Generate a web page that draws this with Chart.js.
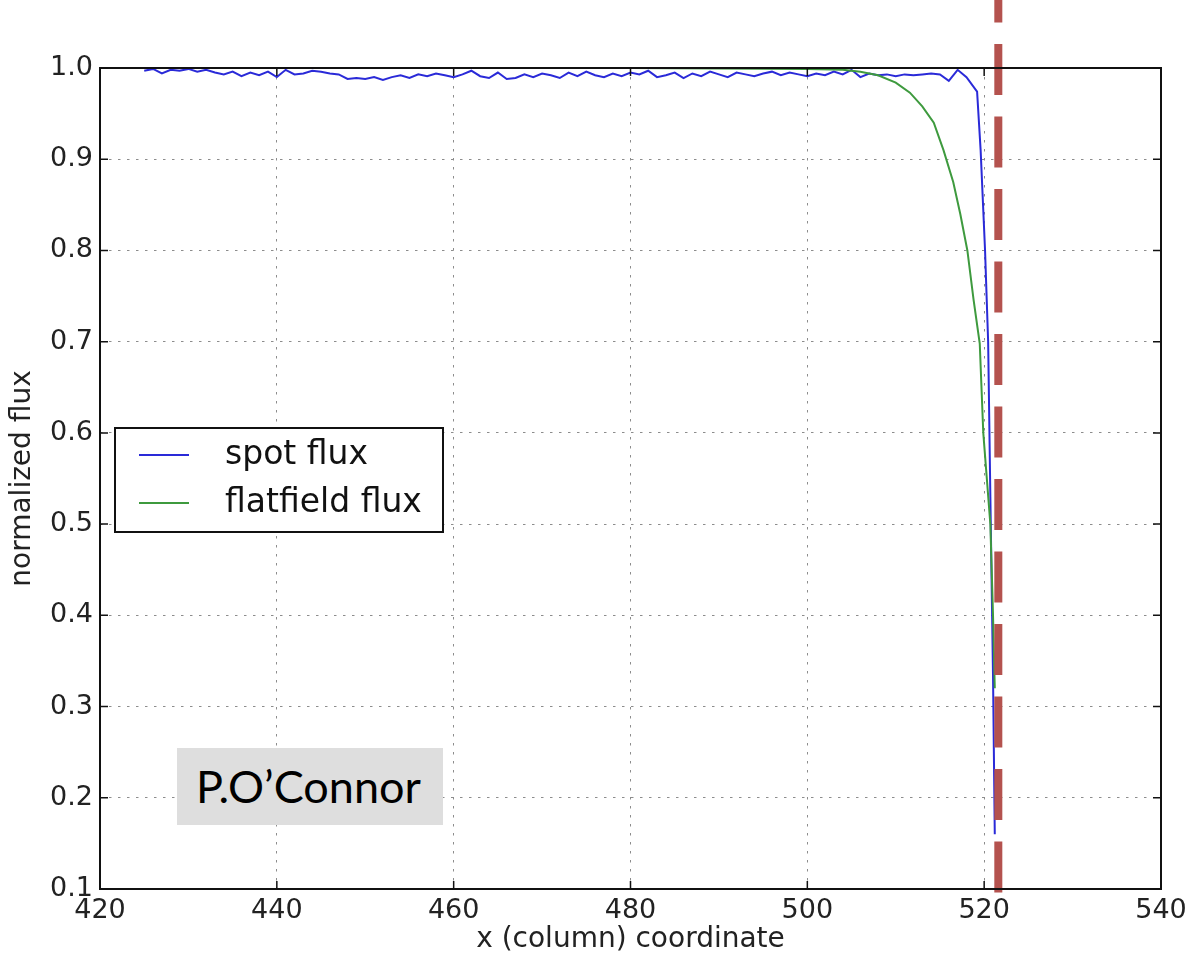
<!DOCTYPE html>
<html>
<head>
<meta charset="utf-8">
<script src="https://cdn.jsdelivr.net/npm/chart.js@4.4.1/dist/chart.umd.min.js"></script>
<style>
  body{ margin:0; background:#fff; }
  #wrap{ position:relative; width:1189px; height:957px; }
  #credit{ position:absolute; left:177px; top:748px; width:266px; height:77px; background:#dedede;
           font-family:Lato, "Liberation Sans", sans-serif; font-size:45px; line-height:77px;
           padding-left:19px; box-sizing:border-box; color:#000; }
</style>
</head>
<body>
<div id="wrap">
  <canvas id="c" width="1189" height="957"></canvas>
  <div id="credit">P.O’Connor</div>
</div>
<script>
// spot flux (blue)
const spotX = [425,426,427,428,429,430,431,432,433,434,435,436,437,438,439,440,
  441,442,443,444,445,446,447,448,449,450,451,452,453,454,455,456,
  457,458,459,460,461,462,463,464,465,466,467,468,469,470,471,472,
  473,474,475,476,477,478,479,480,481,482,483,484,485,486,487,488,
  489,490,491,492,493,494,495,496,497,498,499,500,501,502,503,504,
  505,506,507,508,509,510,511,512,513,514,515,516,517,518,
  519.2,519.6,520.1,520.45,520.7,521.0,521.2];
const spotY = [0.997,0.999,0.994,0.998,0.997,0.999,0.996,0.998,0.995,0.993,0.996,0.991,0.995,0.992,0.996,0.990,
  0.998,0.993,0.994,0.997,0.996,0.994,0.993,0.988,0.989,0.988,0.990,0.987,0.990,0.992,0.989,0.993,
  0.991,0.994,0.992,0.990,0.993,0.997,0.991,0.989,0.995,0.988,0.989,0.993,0.990,0.994,0.992,0.989,
  0.995,0.991,0.996,0.992,0.990,0.994,0.991,0.995,0.993,0.997,0.990,0.992,0.995,0.989,0.994,0.991,
  0.996,0.993,0.990,0.995,0.993,0.991,0.994,0.996,0.992,0.995,0.993,0.991,0.994,0.992,0.996,0.993,
  0.998,0.990,0.994,0.992,0.993,0.991,0.993,0.992,0.993,0.994,0.993,0.986,0.998,0.990,
  0.974,0.91,0.80,0.70,0.53,0.335,0.16];

// flatfield flux (green)
const flatX = [425,450,480,500,504,506,508,510,511.6,513,514.3,515.4,516.5,517.3,518.1,518.8,519.5,519.9,520.3,520.7,521.0,521.2];
const flatY = [1.0,1.0,1.0,0.999,0.998,0.996,0.992,0.984,0.973,0.958,0.94,0.91,0.875,0.84,0.80,0.746,0.698,0.60,0.55,0.50,0.40,0.32];

// dashed edge marker
const edgeX = [521.6, 521.6];
const edgeY = [1.0746, 0.075];

const xTicks = [420,440,460,480,500,520,540];
const yTicks = [0.1,0.2,0.3,0.4,0.5,0.6,0.7,0.8,0.9,1.0];

const seriesLabels = ['spot flux','flatfield flux'];

const pts = (xs,ys)=> xs.map((x,i)=>({x, y: ys[i]}));
const tickFont = { family:'"DejaVu Sans", sans-serif', size:27 };
const titleFont = { family:'"DejaVu Sans", sans-serif', size:28 };

// frame + inward ticks + legend box
const framePlugin = {
  id:'frame',
  afterDatasetsDraw(chart){
    const {ctx, chartArea:a, scales} = chart;
    ctx.save();
    ctx.strokeStyle = '#111'; ctx.lineWidth = 2;
    ctx.strokeRect(a.left, a.top, a.right-a.left, a.bottom-a.top);
    ctx.lineWidth = 1.5;
    ctx.beginPath();
    xTicks.forEach(v=>{
      const px = scales.x.getPixelForValue(v);
      ctx.moveTo(px, a.bottom); ctx.lineTo(px, a.bottom-8);
      ctx.moveTo(px, a.top); ctx.lineTo(px, a.top+8);
    });
    yTicks.forEach(v=>{
      const py = scales.y.getPixelForValue(v);
      ctx.moveTo(a.left, py); ctx.lineTo(a.left+8, py);
      ctx.moveTo(a.right, py); ctx.lineTo(a.right-8, py);
    });
    ctx.stroke();
    ctx.restore();
  },
  afterDraw(chart){
    const ctx = chart.ctx;
    ctx.save();
    ctx.fillStyle = '#fff';
    ctx.fillRect(115, 428, 328, 104);
    ctx.strokeStyle = '#111'; ctx.lineWidth = 2;
    ctx.strokeRect(115, 428, 328, 104);
    const rows = chart.data.datasets.filter(d=> seriesLabels.includes(d.label))
      .sort((p,q)=> seriesLabels.indexOf(p.label) - seriesLabels.indexOf(q.label));
    rows.forEach((d,i)=>{
      const y = 455 + i*48;
      ctx.strokeStyle = d.borderColor; ctx.lineWidth = 2;
      ctx.beginPath(); ctx.moveTo(139, y); ctx.lineTo(189, y); ctx.stroke();
      ctx.fillStyle = '#111';
      ctx.font = '33px "DejaVu Sans", sans-serif';
      ctx.textBaseline = 'middle';
      ctx.fillText(d.label, 225, y);
    });
    ctx.restore();
  }
};

new Chart(document.getElementById('c'), {
  type:'line',
  data:{
    datasets:[
      { label:'edge', data: pts(edgeX, edgeY), borderColor:'#b4524e', borderWidth:8,
        borderDash:[51,21.5], borderDashOffset:28.5, pointRadius:0, clip:false, order:0 },
      { label:seriesLabels[1], data: pts(flatX, flatY), borderColor:'#3e9a3e', borderWidth:2,
        pointRadius:0, tension:0, order:1 },
      { label:seriesLabels[0], data: pts(spotX, spotY), borderColor:'#2a2ad8', borderWidth:2,
        pointRadius:0, tension:0, order:2 }
    ]
  },
  options:{
    responsive:false, animation:false, devicePixelRatio:1,
    layout:{ padding:{ top:68, right:28, left:0, bottom:0 } },
    plugins:{ legend:{ display:false }, tooltip:{ enabled:false } },
    scales:{
      x:{ type:'linear', min:420, max:540,
        afterBuildTicks: s=> { s.ticks = xTicks.map(v=>({value:v})); },
        afterFit: s=> { s.height = 68; s.paddingLeft = 0; s.paddingRight = 0; },
        ticks:{ font:tickFont, color:'#222', padding:6, maxRotation:0 },
        grid:{ color:'#8c8c8c', lineWidth:1, drawTicks:false },
        border:{ display:false, dash:[2.5,6.5] },
        title:{ display:true, text:'x (column) coordinate', font:titleFont, color:'#222', padding:{top:0,bottom:0} }
      },
      y:{ min:0.1, max:1.0,
        afterBuildTicks: s=> { s.ticks = yTicks.map(v=>({value:v})); },
        afterFit: s=> { s.width = 100; s.paddingTop = 0; s.paddingBottom = 0; },
        ticks:{ font:tickFont, color:'#222', padding:7, callback: v=> v.toFixed(1) },
        grid:{ color:'#8c8c8c', lineWidth:1, drawTicks:false },
        border:{ display:false, dash:[2.5,6.5] },
        title:{ display:true, text:'normalized flux', font:titleFont, color:'#222', padding:{top:6,bottom:0} }
      }
    }
  },
  plugins:[framePlugin]
});
</script>
</body>
</html>
